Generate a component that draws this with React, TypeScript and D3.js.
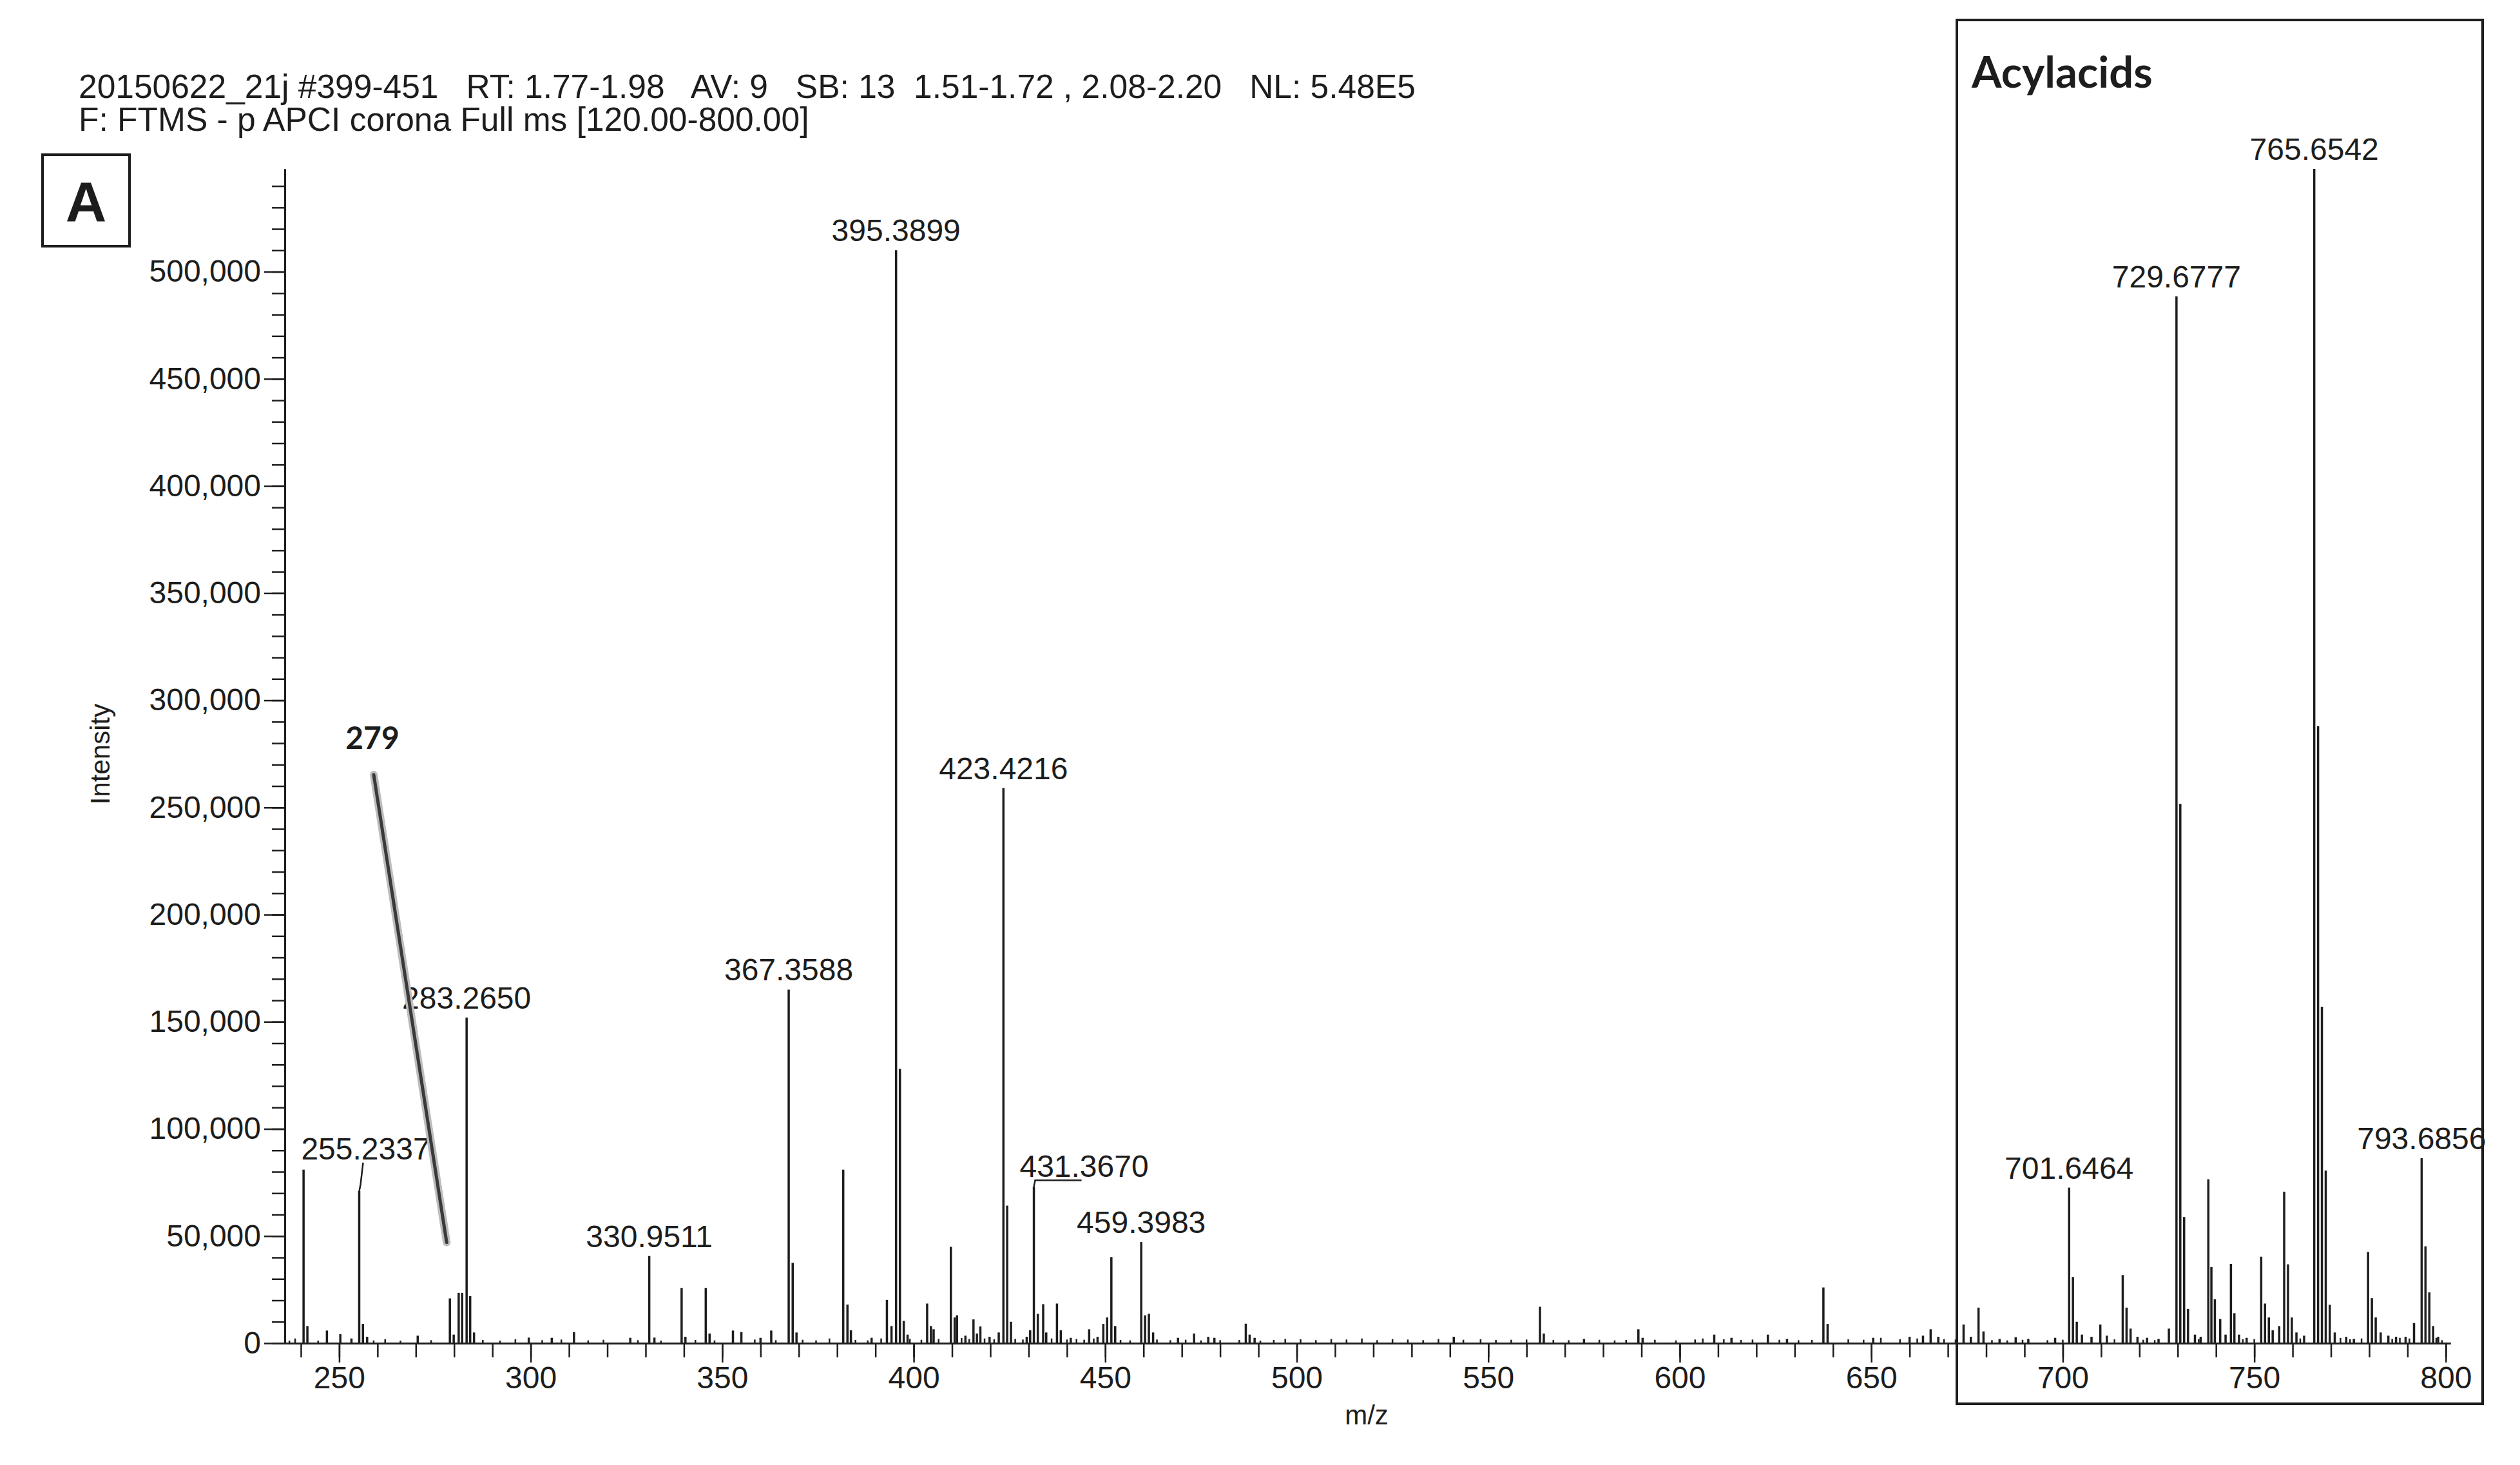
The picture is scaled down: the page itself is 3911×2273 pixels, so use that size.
import React, { useEffect, useRef } from "react";
import * as d3 from "d3";

// Header of the raw file
const headerLine1 = "20150622_21j #399-451   RT: 1.77-1.98   AV: 9   SB: 13  1.51-1.72 , 2.08-2.20   NL: 5.48E5";
const headerLine2 = "F: FTMS - p APCI corona Full ms [120.00-800.00]";

// Main centroid peaks (m/z, intensity)
const peakMz = [
  240.7, 241.7, 246.8, 250.3, 253.2, 255.23, 256.2, 257.3, 270.5, 278.9, 279.9, 281.2, 282.1, 283.27, 284.2, 285.2,
  299.5, 305.5, 311.3, 326.0, 330.95, 332.3, 339.4, 340.4, 345.7, 346.7, 352.8, 355.0, 360.0, 362.8,
  367.36, 368.4, 369.4, 381.6, 382.7, 383.6, 389.0, 393.0, 394.2, 395.39, 396.4, 397.4, 398.4,
  403.5, 404.5, 405.2, 409.7, 410.7, 411.3, 413.5, 415.6, 416.5, 417.4, 419.8, 422.2, 423.42, 424.4, 425.4,
  429.5, 430.4, 431.37, 432.4, 433.8, 434.6, 437.4, 438.4, 441.0, 445.8, 448.0, 449.5, 450.5, 451.6, 452.6,
  459.4, 460.4, 461.4, 462.5, 469.0, 473.2, 476.9, 478.5, 486.7, 487.7, 489.0,
  541.0, 563.5, 564.5, 575.0, 589.2, 590.3, 609.0, 613.5, 623.0, 628.0, 637.5, 638.6, 650.5, 660.0, 663.5, 665.5, 667.5,
  674.1, 676.0, 678.0, 679.3, 683.5, 687.7, 691.0, 698.0,
  701.65, 702.65, 703.65, 705.0, 707.5, 709.8, 711.5, 715.65, 716.65, 717.7, 719.5, 722.0, 725.0, 727.7,
  729.68, 730.68, 731.68, 732.7, 734.5, 736.0, 738.0, 738.8, 739.7, 741.1, 742.5, 743.9, 744.8, 746.0, 748.0,
  751.8, 752.8, 753.8, 754.8, 756.5, 757.8, 758.8, 759.8, 761.0, 763.0,
  765.65, 766.65, 767.65, 768.65, 769.7, 771.0, 774.0, 776.0, 779.7, 780.7, 781.7, 783.0, 785.0, 787.0, 789.5,
  791.7, 793.69, 794.69, 795.7, 796.7, 798.0,
];
const peakIntensity = [
  81000, 8000, 5900, 4200, 2200, 71000, 9000, 3000, 3500, 20900, 4000, 23500, 23500, 152000, 22000, 5000,
  2600, 2500, 5200, 2500, 40700, 2600, 25800, 3000, 25800, 4500, 5900, 5200, 2500, 5900,
  165000, 37500, 5000, 81000, 18000, 6000, 2500, 20200, 8000, 510000, 128000, 10400, 4000,
  18500, 8000, 6500, 45000, 12000, 13000, 3500, 11100, 4500, 7800, 3000, 5000, 259000, 64200, 10000,
  3000, 6000, 73000, 13700, 18200, 5000, 18500, 6000, 2500, 6500, 3000, 9000, 12000, 40200, 8000,
  47200, 13000, 13700, 5000, 2500, 4500, 3000, 2500, 9100, 4000, 2500,
  3000, 17000, 4500, 2000, 6500, 2500, 4000, 2500, 4000, 2000, 26000, 9000, 2500, 3000, 3500, 6500, 3000,
  8700, 3000, 16600, 5500, 2000, 2800, 2000, 2500,
  72600, 30900, 10000, 4000, 3000, 8700, 3500, 31800, 16600, 6800, 3000, 2500, 2000, 6800,
  488500, 251700, 58900, 16000, 4000, 3000, 76500, 35500, 20500, 11300, 4000, 37000, 14000, 4000, 2500,
  40400, 18500, 12000, 6000, 8000, 70700, 36800, 12000, 5000, 3500,
  548000, 288000, 157000, 80500, 17900, 5000, 3000, 2000, 42600, 21000, 12000, 5000, 3500, 3000, 3000,
  9400, 86300, 45200, 23700, 8000, 3000,
];

// Small baseline signals
const noiseMz = [
  237, 238.5, 244.5, 259, 262, 266, 274, 287.5, 292, 296, 303, 308, 315, 319, 328, 334, 343, 348, 358.5, 364,
  371, 374.5, 378, 384.8, 388, 391.5, 399, 402, 406.5, 412.5, 414.5, 418.5, 421, 426.5, 428.5, 436, 440,
  442.5, 444.5, 447, 454, 456.5, 463.5, 467, 471, 475, 480, 485, 490.5, 494, 497, 501, 505, 509, 513, 517,
  521, 525, 529, 533, 537, 543.5, 548, 552, 556, 560, 567, 571, 579, 583, 586, 593.5, 599, 604, 606, 611.5,
  616, 619, 626, 631, 634.5, 644, 648, 652.5, 657.5, 662, 669, 672, 681.5, 685.5, 689.5, 696, 700, 713.5,
  721, 724, 735.5, 747, 750, 762, 772.5, 775, 778, 786, 788, 790.5, 797.5, 799,
];
const noiseIntensity = [
  1200, 2200, 1200, 1300, 1800, 1200, 1400, 1500, 1200, 1800, 1400, 1700, 1300, 1600, 1400, 1200, 1500, 1300, 1700, 1400,
  1600, 1300, 2200, 1500, 1300, 2200, 2000, 1600, 2000, 2400, 2000, 2200, 1800, 2000, 1700, 2200, 1700,
  2000, 1600, 2200, 1500, 1300, 1700, 1400, 1600, 1300, 1400, 1500, 1200, 1500, 2000, 1800, 1400, 1900, 1700, 2200,
  1400, 1900, 1700, 1400, 2000, 1600, 1800, 1500, 1600, 1700, 1500, 1400, 1600, 1300, 1500, 1600, 1300, 1700, 2200, 1800,
  1500, 1700, 1600, 1400, 1500, 1800, 1600, 2500, 1800, 2200, 1900, 1700, 1400, 1300, 1600, 1400, 1600, 1800,
  1600, 1400, 2000, 1800, 1900, 2200, 2400, 1800, 2200, 2000, 2500, 2200, 2500, 1400,
];

// Annotated peaks
const labelMz = [255.2337, 283.265, 330.9511, 367.3588, 395.3899, 423.4216, 431.367, 459.3983, 701.6464, 729.6777, 765.6542, 793.6856];
const labelIntensity = [71000, 152000, 40700, 165000, 510000, 259000, 73000, 47200, 72600, 488500, 548000, 86300];

const xMajorTicks = [250, 300, 350, 400, 450, 500, 550, 600, 650, 700, 750, 800];
const xMinorTicks = d3.range(240, 801, 10);
const yMajorTicks = [0, 50000, 100000, 150000, 200000, 250000, 300000, 350000, 400000, 450000, 500000];
const yMinorTicks = d3.range(0, 540001, 10000);

const width = 3911;
const height = 2273;

const App = () => {
  const svgRef = useRef(null);

  useEffect(() => {
    const plotLeft = 442;
    const plotRight = 3803;
    const plotTop = 262;
    const plotBottom = 2084;
    const font = "'Liberation Sans', Arial, sans-serif";
    const ink = "#1d1d1d";

    const x = d3.scaleLinear().domain([235.8, 801.2]).range([plotLeft, plotRight]);
    const y = d3.scaleLinear().domain([0, 548000]).range([plotBottom, plotTop]);

    const svg = d3.select(svgRef.current);
    svg.selectAll("*").remove();

    svg.append("rect").attr("width", width).attr("height", height).attr("fill", "#fff");

    // header text
    const header = svg.append("g").attr("font-family", font).attr("font-size", 51.5).attr("fill", ink);
    header.append("text").attr("x", 122).attr("y", 152).attr("xml:space", "preserve").style("white-space", "pre").text(headerLine1);
    header.append("text").attr("x", 122).attr("y", 203).attr("xml:space", "preserve").style("white-space", "pre").text(headerLine2);

    // panel letter
    svg.append("rect").attr("x", 66).attr("y", 240).attr("width", 135).attr("height", 142)
      .attr("fill", "none").attr("stroke", ink).attr("stroke-width", 4);
    svg.append("text").attr("x", 133.5).attr("y", 343).attr("text-anchor", "middle")
      .attr("font-family", font).attr("font-weight", "bold").attr("font-size", 88).attr("fill", ink).text("A");

    // Acylacids box
    svg.append("rect").attr("x", 3037).attr("y", 31).attr("width", 816).attr("height", 2147)
      .attr("fill", "none").attr("stroke", ink).attr("stroke-width", 4);
    svg.append("text").attr("x", 3060).attr("y", 136)
      .attr("font-family", "Lato, 'Open Sans', sans-serif").attr("font-weight", "bold").attr("font-size", 67)
      .attr("fill", ink).text("Acylacids");

    // axes
    const styleAxis = (g) => {
      g.attr("font-family", font).attr("font-size", 48);
      g.selectAll("path.domain").attr("stroke", ink).attr("stroke-width", 3);
      g.selectAll(".tick line").attr("stroke", ink).attr("stroke-width", 2.5);
      g.selectAll(".tick text").attr("fill", ink);
    };

    svg.append("g").attr("transform", `translate(0,${plotBottom})`)
      .call(d3.axisBottom(x).tickValues(xMinorTicks).tickSize(22).tickSizeOuter(0).tickFormat(() => ""))
      .call(styleAxis);
    svg.append("g").attr("transform", `translate(0,${plotBottom})`)
      .call(d3.axisBottom(x).tickValues(xMajorTicks).tickSize(30).tickPadding(6).tickSizeOuter(0))
      .call(styleAxis);

    svg.append("g").attr("transform", `translate(${plotLeft},0)`)
      .call(d3.axisLeft(y).tickValues(yMinorTicks).tickSize(20).tickSizeOuter(0).tickFormat(() => ""))
      .call(styleAxis);
    svg.append("g").attr("transform", `translate(${plotLeft},0)`)
      .call(d3.axisLeft(y).tickValues(yMajorTicks).tickSize(32).tickPadding(5).tickSizeOuter(0).tickFormat(d3.format(",")))
      .call(styleAxis);

    // axis titles
    svg.append("text").attr("transform", "translate(170,1170) rotate(-90)").attr("text-anchor", "middle")
      .attr("font-family", font).attr("font-size", 42).attr("fill", ink).text("Intensity");
    svg.append("text").attr("x", 2121).attr("y", 2210).attr("text-anchor", "middle")
      .attr("font-family", font).attr("font-size", 42).attr("fill", ink).text("m/z");

    // baseline noise and peaks
    const sticks = svg.append("g").attr("stroke", ink).attr("stroke-width", 3.5);
    sticks.selectAll("line.noise").data(noiseMz).join("line").attr("class", "noise")
      .attr("x1", (d) => x(d)).attr("x2", (d) => x(d))
      .attr("y1", y(0)).attr("y2", (d, i) => y(noiseIntensity[i]))
      .attr("stroke-width", 2.5);
    sticks.selectAll("line.peak").data(peakMz).join("line").attr("class", "peak")
      .attr("x1", (d) => x(d)).attr("x2", (d) => x(d))
      .attr("y1", y(0)).attr("y2", (d, i) => y(peakIntensity[i]));

    // peak labels (two of them are shifted with a leader line)
    const shifted = { 255.2337: [10, 49], 431.367: [78, 15] };
    const labels = svg.append("g").attr("font-family", font).attr("font-size", 48).attr("fill", ink).attr("text-anchor", "middle");
    labelMz.forEach((mz, i) => {
      const px = x(mz);
      const py = y(labelIntensity[i]);
      const [dx, gap] = shifted[mz] || [0, 14];
      labels.append("text").attr("x", px + dx).attr("y", py - gap).text(mz.toFixed(4));
      if (shifted[mz]) {
        svg.append("path")
          .attr("d", `M${px},${py} L${px + 2},${py - 10} L${px + dx - 4},${py - gap + 5}`)
          .attr("fill", "none").attr("stroke", ink).attr("stroke-width", 2.5);
      }
    });

    // hand-drawn "279" pointer
    const tipX = x(278.9) - 5;
    const tipY = y(47000);
    svg.append("line").attr("x1", 580).attr("y1", 1202).attr("x2", tipX).attr("y2", tipY)
      .attr("stroke", "#bdbdbd").attr("stroke-width", 12).attr("stroke-linecap", "round");
    svg.append("line").attr("x1", 580).attr("y1", 1202).attr("x2", tipX).attr("y2", tipY)
      .attr("stroke", "#3a3a3a").attr("stroke-width", 5).attr("stroke-linecap", "round");
    svg.append("text").attr("x", 578).attr("y", 1162).attr("text-anchor", "middle")
      .attr("font-family", "Lato, 'Open Sans', sans-serif").attr("font-weight", "bold").attr("font-size", 48)
      .attr("fill", ink).text("279");
  }, []);

  return (
    <svg
      ref={svgRef}
      width={width}
      height={height}
      style={{ position: "absolute", left: 0, top: 0, display: "block" }}
    />
  );
};

export default App;
